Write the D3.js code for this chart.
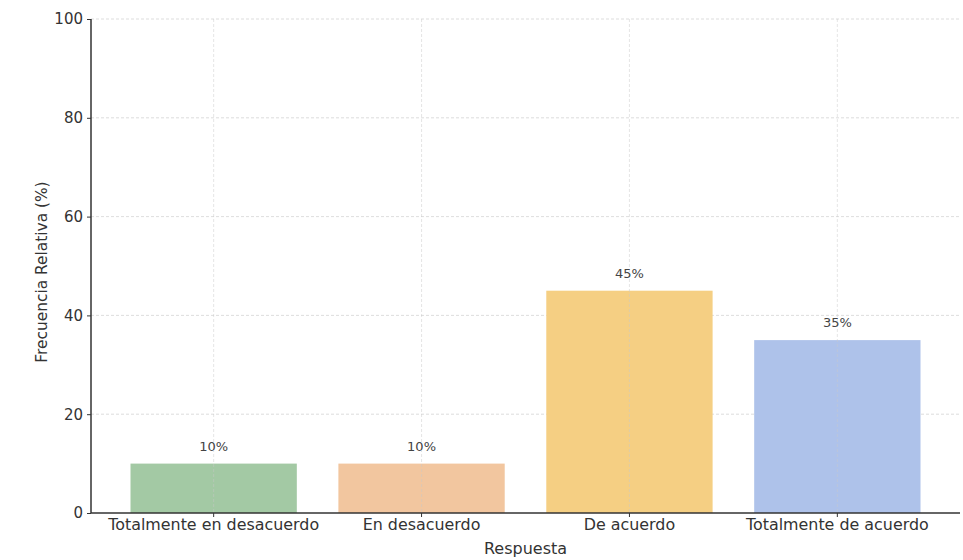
<!DOCTYPE html>
<html>
<head>
<meta charset="utf-8">
<script src="https://cdn.jsdelivr.net/npm/d3@7"></script>
<style>
  html, body { margin: 0; padding: 0; background: #fff; }
  svg { display: block; font-family: "DejaVu Sans", sans-serif; }
</style>
</head>
<body>
<svg id="chart" width="963" height="560"></svg>
<script>
// Survey responses and their relative frequency (%)
const categories = ["Totalmente en desacuerdo", "En desacuerdo", "De acuerdo", "Totalmente de acuerdo"];
const values = [10, 10, 45, 35];
const barColors = ["#a3c9a4", "#f2c69f", "#f5cf83", "#aec2ea"];
const yTicks = [0, 20, 40, 60, 80, 100];

const svg = d3.select("#chart");
const plotLeft = 91, plotRight = 960, plotTop = 19, plotBottom = 513;

const x = d3.scaleBand()
  .domain(categories)
  .range([plotLeft, plotRight])
  .paddingInner(0.2)
  .paddingOuter(0.19);

const y = d3.scaleLinear().domain([0, 100]).range([plotBottom, plotTop]);

// Dashed horizontal grid
svg.append("g").selectAll("line")
  .data(yTicks.filter(d => d > 0))
  .join("line")
  .attr("x1", plotLeft).attr("x2", plotRight)
  .attr("y1", d => y(d)).attr("y2", d => y(d))
  .attr("stroke", "#d4d4d4").attr("stroke-width", 0.8)
  .attr("stroke-dasharray", "3,2");

// Bars
svg.append("g").selectAll("rect")
  .data(categories)
  .join("rect")
  .attr("x", d => x(d))
  .attr("width", x.bandwidth())
  .attr("y", (d, i) => y(values[i]))
  .attr("height", (d, i) => y(0) - y(values[i]))
  .attr("fill", (d, i) => barColors[i]);

// Vertical grid lines at category centers, visible through the bars
svg.append("g").selectAll("line")
  .data(categories)
  .join("line")
  .attr("x1", d => x(d) + x.bandwidth() / 2)
  .attr("x2", d => x(d) + x.bandwidth() / 2)
  .attr("y1", plotTop).attr("y2", plotBottom)
  .attr("stroke", "#c8c8c8").attr("stroke-opacity", 0.6).attr("stroke-width", 0.8)
  .attr("stroke-dasharray", "3,2");

// Value labels
svg.append("g").selectAll("text")
  .data(categories)
  .join("text")
  .attr("x", d => x(d) + x.bandwidth() / 2)
  .attr("y", (d, i) => y(values[i]) - 13)
  .attr("text-anchor", "middle")
  .attr("font-size", 13)
  .attr("fill", "#444")
  .text((d, i) => values[i] + "%");

// Axes
const yAxis = svg.append("g")
  .attr("transform", `translate(${plotLeft},0)`)
  .call(d3.axisLeft(y).tickValues(yTicks).tickSize(4).tickPadding(4));
const xAxis = svg.append("g")
  .attr("transform", `translate(0,${plotBottom})`)
  .call(d3.axisBottom(x).tickSize(4).tickPadding(2).tickSizeOuter(0));

[yAxis, xAxis].forEach(a => {
  a.select(".domain").attr("stroke", "#333").attr("stroke-width", 1.5);
  a.selectAll(".tick line").attr("stroke", "#333");
  a.selectAll(".tick text").attr("fill", "#333")
    .attr("font-family", "DejaVu Sans, sans-serif");
});
yAxis.selectAll(".tick text").attr("font-size", 15);
xAxis.selectAll(".tick text").attr("font-size", 15.9);
yAxis.select(".domain").attr("d", `M0,${plotBottom}V${plotTop}`);
xAxis.select(".domain").attr("d", `M${plotLeft},0H${plotRight}`);

// Axis titles
svg.append("text")
  .attr("x", (plotLeft + plotRight) / 2).attr("y", 554)
  .attr("text-anchor", "middle").attr("font-size", 16).attr("fill", "#333")
  .text("Respuesta");
svg.append("text")
  .attr("transform", `translate(47,${(plotTop + plotBottom) / 2 + 6}) rotate(-90)`)
  .attr("text-anchor", "middle").attr("font-size", 15.4).attr("fill", "#333")
  .text("Frecuencia Relativa (%)");
</script>
</body>
</html>
